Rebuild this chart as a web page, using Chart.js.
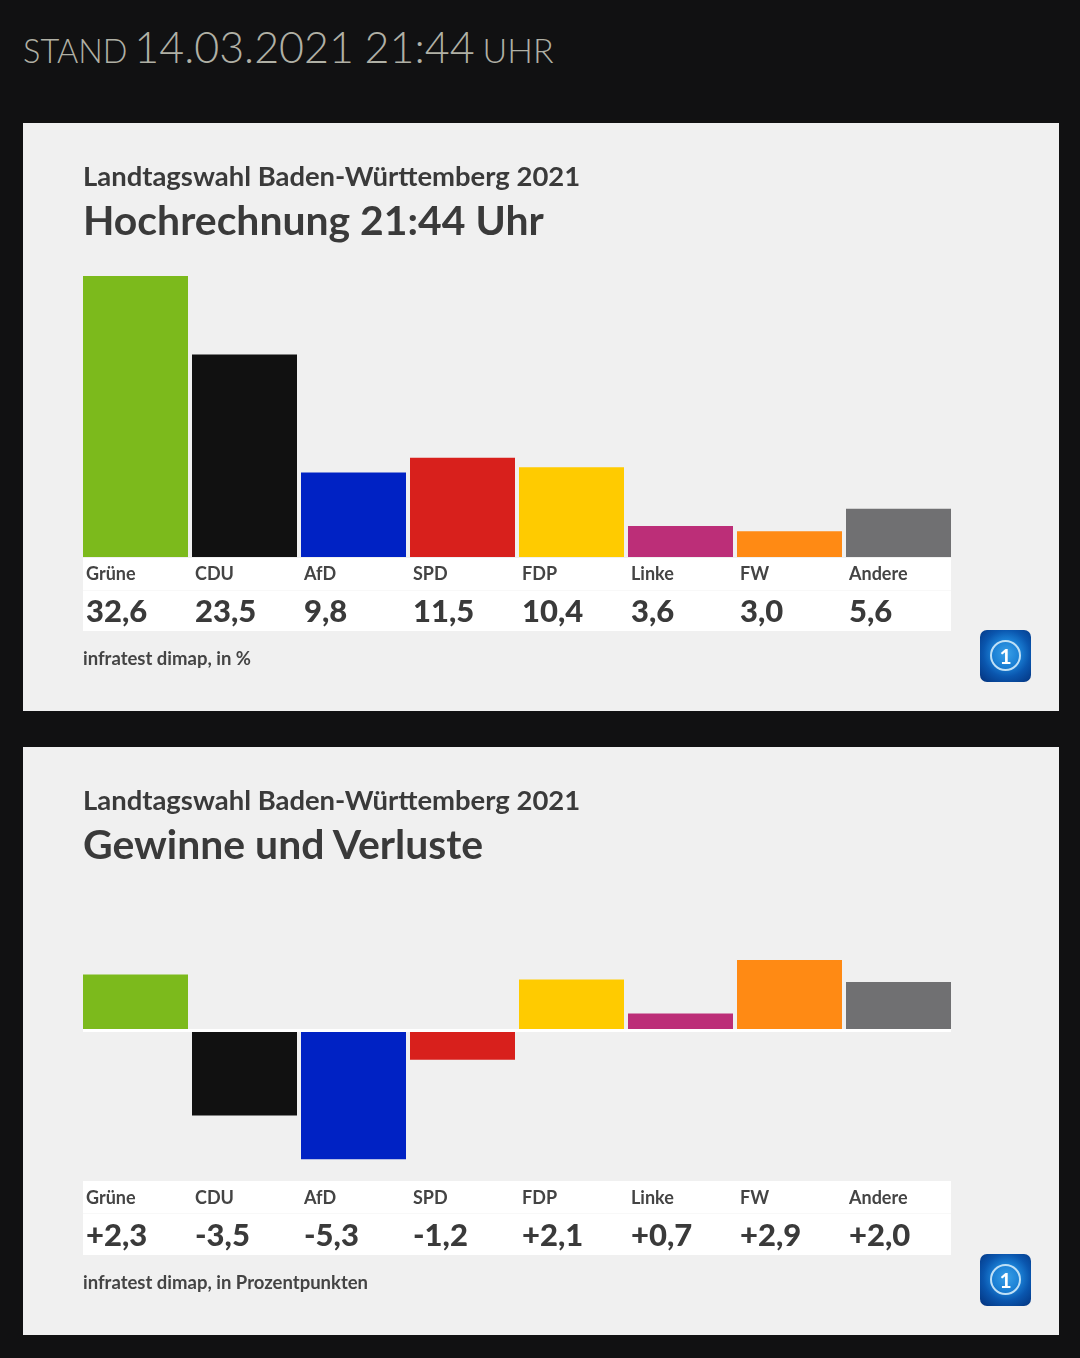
<!DOCTYPE html>
<html lang="de">
<head>
<meta charset="utf-8">
<title>Landtagswahl Baden-Württemberg 2021</title>
<script src="https://cdn.jsdelivr.net/npm/chart.js@4"></script>
<style>
  html, body { margin: 0; padding: 0; background: #111112; }
  body { position: relative; width: 1080px; height: 1358px; overflow: hidden; font-family: Lato, sans-serif; color: #3a3a3a; }
  .stand { position: absolute; left: 23px; top: 20px; color: #b0b0a5; font-size: 32.5px; font-weight: 300; line-height: 54px; white-space: nowrap; word-spacing: -1px; }
  .stand b { font-weight: 300; font-size: 43px; word-spacing: -1px; margin-left: -1px; }
  .stand span { font-size: 34px; }
  .panel { position: absolute; left: 23px; width: 1036px; height: 588px; background: #f0f0f0; }
  .panel canvas { position: absolute; left: 0; top: 0; }
  .sub { position: absolute; left: 60px; top: 36px; font-size: 27.45px; font-weight: 700; line-height: 34px; white-space: nowrap; }
  .title { position: absolute; left: 60px; top: 72px; font-size: 40.9px; font-weight: 700; line-height: 50px; white-space: nowrap; }
  .source { position: absolute; left: 60px; top: 523px; font-size: 18.5px; font-weight: 700; line-height: 24px; color: #444; white-space: nowrap; }
  .logo { position: absolute; left: 957px; top: 507px; width: 51px; height: 52px; border-radius: 7px; background: radial-gradient(circle at 52% 45%, #3aa0e8 0%, #1a7fd4 35%, #0a56ae 60%, #03307a 100%); }
  .logo i { position: absolute; left: 10px; top: 10px; width: 27px; height: 27px; border: 2px solid #bfe0f6; border-radius: 50%; color: #fff; font: 700 21px/27px Lato, sans-serif; text-align: center; }
</style>
</head>
<body>
<div class="stand">STAND <b>14.03.2021 21:44</b> <span>UHR</span></div>

<div class="panel" style="top: 123px">
  <canvas id="resultChart" width="1036" height="588"></canvas>
  <div class="sub">Landtagswahl Baden-Württemberg 2021</div>
  <div class="title">Hochrechnung 21:44 Uhr</div>
  <div class="source">infratest dimap, in %</div>
  <div class="logo"><i>1</i></div>
</div>

<div class="panel" style="top: 747px">
  <canvas id="changeChart" width="1036" height="588"></canvas>
  <div class="sub">Landtagswahl Baden-Württemberg 2021</div>
  <div class="title">Gewinne und Verluste</div>
  <div class="source">infratest dimap, in Prozentpunkten</div>
  <div class="logo"><i>1</i></div>
</div>

<script>
const parties = ['Grüne', 'CDU', 'AfD', 'SPD', 'FDP', 'Linke', 'FW', 'Andere'];
const results = [32.6, 23.5, 9.8, 11.5, 10.4, 3.6, 3.0, 5.6];
const changes = [2.3, -3.5, -5.3, -1.2, 2.1, 0.7, 2.9, 2.0];
const partyColors = ['#7cba1c', '#111111', '#0022c4', '#d8201c', '#ffcb00', '#bc2e78', '#ff8a14', '#707072'];

// the white table under the bars, plus the white zero line in the second chart
const tablePlugin = {
    id: 'partyTable',
    beforeDraw(chart, args, opts) {
        const ctx = chart.ctx;
        ctx.save();
        ctx.fillStyle = '#ffffff';
        ctx.fillRect(60, opts.bandTop, 868, opts.bandHeight);
        ctx.fillStyle = '#f8f8f8';
        ctx.fillRect(60, opts.bandTop + 32, 868, 1);
        ctx.restore();
    },
    afterDatasetsDraw(chart, args, opts) {
        const ctx = chart.ctx;
        ctx.save();
        if (opts.zeroLine) {
            ctx.fillStyle = '#ffffff';
            ctx.fillRect(60, chart.scales.y.getPixelForValue(0) - 1.5, 868, 3);
        }
        ctx.fillStyle = '#3a3a3a';
        ctx.font = '900 31px Lato, sans-serif';
        ctx.textBaseline = 'middle';
        opts.values.forEach((v, i) => {
            const x = chart.scales.x.getPixelForTick(i) - 49.5;
            ctx.fillText(opts.format(v), x, opts.bandTop + opts.valueOffset);
        });
        ctx.restore();
    }
};

function drawPanel(id, values, yMin, yMax, topPad, axisHeight, format, table) {
    new Chart(document.getElementById(id).getContext('2d'), {
        type: 'bar',
        data: {
            labels: parties,
            datasets: [{
                data: values,
                backgroundColor: partyColors,
                barPercentage: 105 / 109,
                categoryPercentage: 1
            }]
        },
        options: {
            responsive: false,
            animation: false,
            layout: { padding: { left: 58, right: 106, top: topPad, bottom: 0 } },
            plugins: {
                legend: { display: false },
                title: { display: false },
                tooltip: { enabled: false },
                partyTable: Object.assign({ values: values, format: format }, table)
            },
            scales: {
                x: {
                    afterFit: scale => { scale.height = axisHeight; },
                    grid: { display: false },
                    border: { display: false },
                    ticks: {
                        autoSkip: false,
                        maxRotation: 0,
                        align: 'start',
                        labelOffset: -49.5,
                        padding: table.labelPad,
                        color: '#444444',
                        font: { family: 'Lato, sans-serif', size: 18, weight: '700' }
                    }
                },
                y: {
                    display: false,
                    min: yMin,
                    max: yMax
                }
            }
        },
        plugins: [tablePlugin]
    });
}

const comma = v => v.toFixed(1).replace('.', ',');
const signed = v => (v > 0 ? '+' : '') + comma(v);

drawPanel('resultChart', results, 0, 33, 149.5, 154, comma,
    { bandTop: 435, bandHeight: 73, labelPad: -2, valueOffset: 54, zeroLine: false });
drawPanel('changeChart', changes, -6, 4, 186.3, 158.7, signed,
    { bandTop: 434, bandHeight: 74, labelPad: 3, valueOffset: 55, zeroLine: true });
</script>
</body>
</html>
